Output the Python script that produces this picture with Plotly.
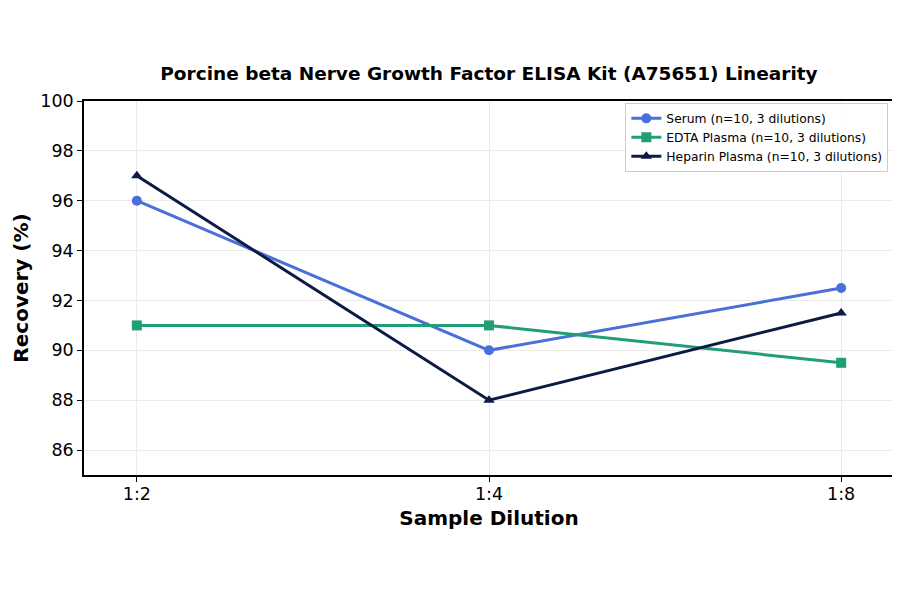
import plotly.graph_objects as go

# data
dilutions = ["1:2", "1:4", "1:8"]
serum = [96.0, 90.0, 92.5]
edta_plasma = [91.0, 91.0, 89.5]
heparin_plasma = [97.0, 88.0, 91.5]

series_names = [
    "Serum (n=10, 3 dilutions)",
    "EDTA Plasma (n=10, 3 dilutions)",
    "Heparin Plasma (n=10, 3 dilutions)",
]
series_values = [serum, edta_plasma, heparin_plasma]
colors = ["#4a6fd8", "#1f9e77", "#0c1a45"]
symbols = ["circle", "square", "triangle-up"]

fig = go.Figure()

for name, vals, col, sym in zip(series_names, series_values, colors, symbols):
    fig.add_trace(go.Scatter(
        x=dilutions,
        y=vals,
        name=name,
        mode="lines+markers",
        line=dict(color=col, width=3),
        marker=dict(color=col, size=10, symbol=sym),
    ))

fig.update_layout(
    width=900,
    height=594,
    paper_bgcolor="white",
    plot_bgcolor="white",
    font=dict(family="DejaVu Sans", color="black"),
    margin=dict(l=73, r=12, t=93, b=127),
    title=dict(
        text="<b>Porcine beta Nerve Growth Factor ELISA Kit (A75651) Linearity</b>",
        xref="paper",
        x=0.5,
        xanchor="center",
        y=0.89,
        yanchor="middle",
        font=dict(size=18.5),
    ),
    legend=dict(
        x=0.993,
        y=0.995,
        xanchor="right",
        yanchor="top",
        bgcolor="rgba(255,255,255,0.8)",
        bordercolor="#cccccc",
        borderwidth=1,
        font=dict(size=12.3),
        itemwidth=30,
        tracegroupgap=0,
    ),
    showlegend=True,
)

fig.update_xaxes(
    title=dict(text="<b>Sample Dilution</b>", font=dict(size=20), standoff=8),
    range=[-0.15, 2.15],
    showline=True,
    linecolor="black",
    linewidth=1.5,
    mirror=True,
    ticks="outside",
    ticklen=5,
    tickcolor="black",
    tickfont=dict(size=17.5),
    ticklabelstandoff=-3,
    showgrid=True,
    gridcolor="#ebebeb",
    zeroline=False,
)

fig.update_yaxes(
    title=dict(text="<b>Recovery (%)</b>", font=dict(size=20), standoff=6),
    range=[85, 100],
    tickvals=[86, 88, 90, 92, 94, 96, 98, 100],
    showline=True,
    linecolor="black",
    linewidth=1.5,
    mirror=True,
    ticks="outside",
    ticklen=5,
    tickcolor="black",
    tickfont=dict(size=17.5),
    showgrid=True,
    gridcolor="#ebebeb",
    zeroline=False,
)

fig.write_html("out.html")
